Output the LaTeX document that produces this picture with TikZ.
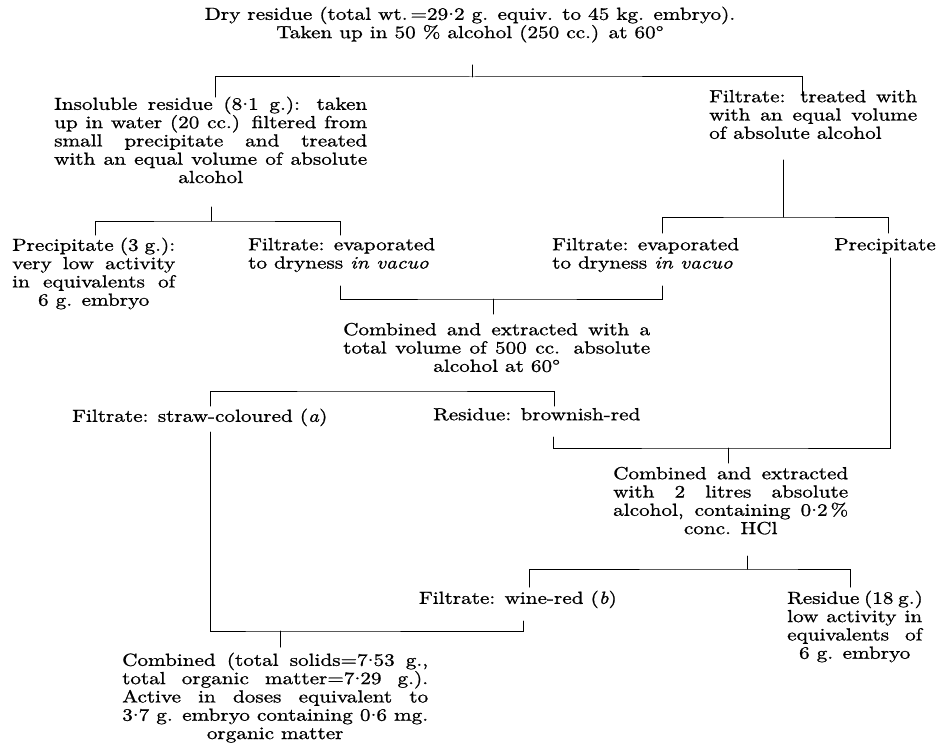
\documentclass[tikz,border=0pt]{standalone}
\usepackage{fontspec}
\setmainfont{lmroman10-regular.otf}[ItalicFont=lmroman10-italic.otf, FakeStretch=1.21, FakeBold=1]
\newcommand\st{\rule[-4pt]{0pt}{16.5pt}}
\newcommand\Js[2]{\makebox[#1][s]{\st #2}}
\newcommand\Jc[2]{\makebox[#1][c]{\st #2}}
\newcommand\Jl[2]{\makebox[#1][l]{\st #2}}
\newcommand\dt{\raisebox{0.28em}{.}}
\begin{document}
\begin{tikzpicture}[x=1pt,y=-1pt,
  txt/.style={inner sep=0pt, font=\fontsize{17.5}{18.3}\selectfont, align=left},
  ctxt/.style={inner sep=0pt, font=\fontsize{17.5}{18.3}\selectfont, align=center},
  conn/.style={line width=1pt, line cap=round}]
\useasboundingbox (0,0) rectangle (937,752);
% ---------- text nodes ----------
\node[ctxt, anchor=north] (top) at (470,6.5)
  {\st Dry residue (total wt.\,=29\dt2 g. equiv. to 45 kg. embryo).\\
   \st Taken up in 50 \% alcohol (250 cc.) at 60°};
\node[txt, anchor=north west] (insol) at (54,96.5)
  {\Js{313pt}{Insoluble residue (8\dt1 g.): taken}\\
   \Js{313pt}{up in water (20 cc.) filtered from}\\
   \Js{313pt}{small precipitate and treated}\\
   \Js{313pt}{with an equal volume of absolute}\\
   \Jc{313pt}{alcohol}};
\node[txt, anchor=north west] (filt1) at (709,89.5)
  {\Js{208pt}{Filtrate: treated with}\\
   \Js{208pt}{with an equal volume}\\
   \Jl{208pt}{of absolute alcohol}};
\node[txt, anchor=north west] (prec1) at (12,237.5)
  {\Js{163pt}{Precipitate (3 g.):}\\
   \Js{163pt}{very low activity}\\
   \Js{163pt}{in equivalents of}\\
   \Jc{163pt}{6 g. embryo}};
\node[txt, anchor=north west] (filt2) at (248,237.5)
  {\st Filtrate: evaporated\\ \st to dryness \textit{in vacuo}};
\node[txt, anchor=north west] (filt3) at (552,237.5)
  {\st Filtrate: evaporated\\ \st to dryness \textit{in vacuo}};
\node[txt, anchor=north east] (prec2) at (936,237.5) {\st Precipitate};
\node[txt, anchor=north west] (comb1) at (343,322.5)
  {\Js{307pt}{Combined and extracted with a}\\
   \Js{307pt}{total volume of 500 cc. absolute}\\
   \Jc{307pt}{alcohol at 60°}};
\node[txt, anchor=north west] (straw) at (72,408.5)
  {\st Filtrate: straw-coloured (\textit{a})};
\node[txt, anchor=north west] (brown) at (433,407.5)
  {\st Residue: brownish-red};
\node[txt, anchor=north west] (comb2) at (613,466.5)
  {\Js{235pt}{Combined and extracted}\\
   \Js{235pt}{with 2 litres absolute}\\
   \Js{235pt}{alcohol, containing 0\dt2\,\%}\\
   \Jc{235pt}{conc. HCl}};
\node[txt, anchor=north east] (wine) at (617,590.5)
  {\st Filtrate: wine-red (\textit{b})};
\node[txt, anchor=north west] (res18) at (787,590.5)
  {\Js{135pt}{Residue (18 g.)}\\
   \Js{135pt}{low activity in}\\
   \Js{135pt}{equivalents of}\\
   \Jc{135pt}{6 g. embryo}};
\node[txt, anchor=north west] (final) at (122,652.5)
  {\Js{306pt}{Combined (total solids=7\dt53 g.,}\\
   \Js{306pt}{total organic matter=7\dt29 g.).}\\
   \Js{306pt}{Active in doses equivalent to}\\
   \Js{306pt}{3\dt7 g. embryo containing 0\dt6 mg.}\\
   \Jc{306pt}{organic matter}};
% ---------- connector points ----------
\coordinate (s1) at (472,65);  \coordinate (j1) at (472,77);
\coordinate (d1L) at (215,97); \coordinate (d1R) at (802,96);
\coordinate (s2) at (211,207); \coordinate (j2) at (211,221);
\coordinate (d2L) at (95,235); \coordinate (d2R) at (340,235);
\coordinate (s3) at (783,160); \coordinate (j3) at (783,217);
\coordinate (d3L) at (662,233); \coordinate (d3R) at (888,233);
\coordinate (u4L) at (340,286); \coordinate (u4R) at (662,286);
\coordinate (j4) at (493,299); \coordinate (s4) at (493,314);
\coordinate (j5) at (382,391);
\coordinate (d5L) at (210,406); \coordinate (d5R) at (554,406);
\coordinate (u6L) at (210,432); \coordinate (u6R) at (523,621);
\coordinate (j6) at (280,631); \coordinate (s6) at (280,647);
\coordinate (u7L) at (553,437); \coordinate (u7R) at (890,258);
\coordinate (j7) at (728,448); \coordinate (s7) at (728,463);
\coordinate (s8) at (747,556); \coordinate (j8) at (747,569);
\coordinate (d8L) at (529,587); \coordinate (d8R) at (850,587);
% ---------- connectors ----------
\draw[conn] (s1) -- (j1);
\draw[conn] (d1L) |- (j1) -| (d1R);
\draw[conn] (s2) -- (j2);
\draw[conn] (d2L) |- (j2) -| (d2R);
\draw[conn] (s3) -- (j3);
\draw[conn] (d3L) |- (j3) -| (d3R);
\draw[conn] (u4L) |- (j4) -| (u4R);
\draw[conn] (j4) -- (s4);
\draw[conn] (d5L) |- (j5) -| (d5R);
\draw[conn] (u6L) |- (j6) -| (u6R);
\draw[conn] (j6) -- (s6);
\draw[conn] (u7L) |- (j7) -| (u7R);
\draw[conn] (j7) -- (s7);
\draw[conn] (s8) -- (j8);
\draw[conn] (d8L) |- (j8) -| (d8R);
\end{tikzpicture}
\end{document}
